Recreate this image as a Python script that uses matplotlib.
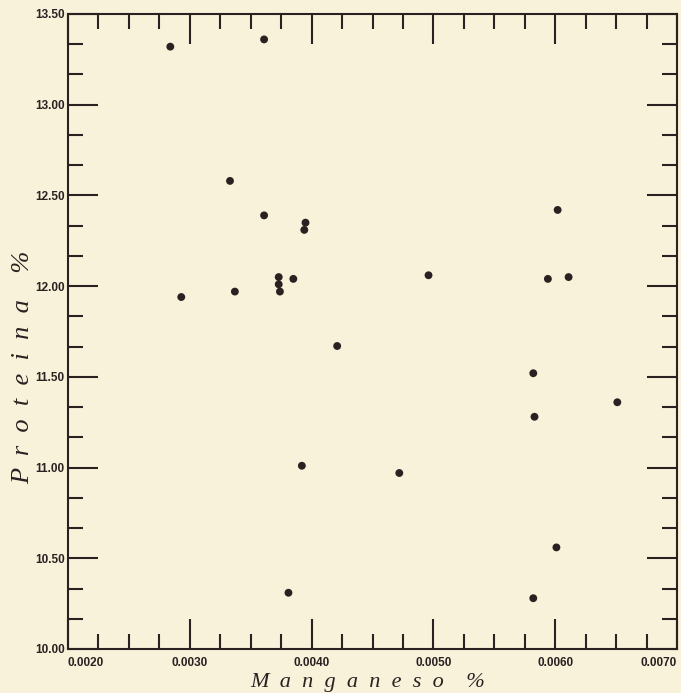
import matplotlib
matplotlib.use('Agg')
import matplotlib.pyplot as plt
from matplotlib.ticker import FixedLocator, FixedFormatter
import numpy as np

# ---- data ----
manganeso = [0.00284, 0.00361, 0.00333, 0.00361, 0.00395, 0.00394, 0.00373, 0.00373,
             0.00374, 0.00385, 0.00293, 0.00337, 0.00496, 0.00594, 0.00611, 0.00602,
             0.00582, 0.00651, 0.00583, 0.00472, 0.00601, 0.00582, 0.00381, 0.00421,
             0.00392]
proteina = [13.32, 13.36, 12.58, 12.39, 12.35, 12.31, 12.05, 12.01,
            11.97, 12.04, 11.94, 11.97, 12.06, 12.04, 12.05, 12.42,
            11.52, 11.36, 11.28, 10.97, 10.56, 10.28, 10.31, 11.67,
            11.01]

x_major = [0.0020, 0.0030, 0.0040, 0.0050, 0.0060, 0.0070]
x_labels = ["0.0020", "0.0030", "0.0040", "0.0050", "0.0060", "0.0070"]
y_major = [10.00, 10.50, 11.00, 11.50, 12.00, 12.50, 13.00, 13.50]
y_labels = ["10.00", "10.50", "11.00", "11.50", "12.00", "12.50", "13.00", "13.50"]

BG = '#f8f2db'
INK = '#2a2120'
W, H = 681, 693

fig = plt.figure(figsize=(W / 100, H / 100), dpi=100, facecolor=BG)
L, R, T, B = 68, 677, 14, 649
ax = fig.add_axes([L / W, 1 - B / H, (R - L) / W, (B - T) / H])
ax.set_facecolor(BG)

ax.scatter(manganeso, proteina, s=32, color=INK, edgecolors='none', zorder=3)

ax.set_xlim(0.0020, 0.0070)
ax.set_ylim(10.0, 13.5)

ax.xaxis.set_major_locator(FixedLocator(x_major))
ax.xaxis.set_major_formatter(FixedFormatter(x_labels))
ax.yaxis.set_major_locator(FixedLocator(y_major))
ax.yaxis.set_major_formatter(FixedFormatter(y_labels))
ax.xaxis.set_minor_locator(FixedLocator(list(np.arange(0.0020, 0.00701, 0.00025))))
ax.yaxis.set_minor_locator(FixedLocator(list(np.arange(10.0, 13.501, 0.5 / 3))))

for s in ax.spines.values():
    s.set_color(INK)
    s.set_linewidth(1.5)

ax.tick_params(which='both', direction='in', top=True, right=True, color=INK,
               width=1.5, labelsize=8.5, labelcolor=INK)
ax.tick_params(which='major', length=21.5)
ax.tick_params(which='minor', length=11)
ax.tick_params(axis='x', which='major', pad=6)
ax.tick_params(axis='y', which='major', pad=2.5)

for lab in ax.get_xticklabels() + ax.get_yticklabels():
    lab.set_fontfamily('Liberation Sans')
    lab.set_fontweight('bold')

xl = ax.get_xticklabels()
xl[0].set_horizontalalignment('left')
xl[-1].set_horizontalalignment('right')

fig.text(368 / W, 1 - 687 / H, 'M  a  n  g  a  n  e  s  o    %', ha='center', va='baseline',
         fontsize=16, fontstyle='italic', family='Liberation Serif', color=INK)
fig.text(23 / W, 1 - 367 / H, 'P  r  o  t  e  i  n  a    %', ha='center', va='center',
         rotation=90, fontsize=19, fontstyle='italic', family='Liberation Serif', color=INK)

fig.savefig('out.png', dpi=100, facecolor=BG)
